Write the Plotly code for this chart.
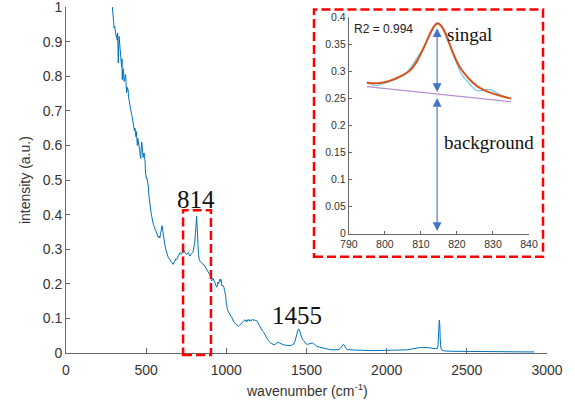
import plotly.graph_objects as go

# Raman spectrum (wavenumber in cm^-1, normalised intensity)
wavenumber = [
    289, 293, 295, 298, 300, 303, 306, 310, 313, 316, 319, 322, 324, 326, 328, 331, 334, 337, 340, 343,
    345, 347, 349, 351, 354, 357, 360, 362, 365, 368, 372, 375, 378, 381, 384, 387, 390, 393, 396, 399,
    403, 406, 409, 412, 415, 418, 421, 424, 427, 430, 433, 436, 439, 442, 445, 448, 451, 454, 457, 460,
    463, 466, 469, 472, 475, 478, 481, 484, 487, 490, 493, 496, 499, 502, 505, 508, 511, 514, 517, 520,
    524, 528, 532, 536, 540, 545, 550, 555, 560, 565, 570, 575, 580, 585, 590, 595, 599, 603, 607, 612,
    617, 622, 628, 633, 638, 643, 649, 654, 659, 664, 669, 674, 680, 685, 690, 695, 701, 706, 711, 716,
    722, 727, 732, 737, 742, 747, 753, 758, 763, 768, 773, 778, 784, 789, 794, 799, 803, 807, 810, 813,
    815, 817, 819, 821, 823, 826, 830, 834, 838, 842, 846, 850, 856, 861, 867, 872, 878, 884, 890, 895,
    898, 902, 906, 909, 912, 916, 919, 922, 926, 929, 933, 936, 940, 944, 948, 951, 955, 958, 961, 964,
    967, 970, 973, 977, 981, 985, 989, 993, 996, 999, 1002, 1006, 1012, 1018, 1023, 1028, 1033, 1038, 1044, 1049,
    1054, 1060, 1065, 1070, 1075, 1080, 1085, 1090, 1096, 1101, 1106, 1111, 1116, 1120, 1124, 1128, 1132, 1137, 1142, 1146,
    1150, 1155, 1160, 1165, 1170, 1175, 1180, 1185, 1190, 1195, 1200, 1205, 1210, 1215, 1220, 1226, 1231, 1236, 1241, 1246,
    1252, 1257, 1262, 1267, 1272, 1278, 1283, 1290, 1298, 1305, 1312, 1318, 1324, 1330, 1337, 1345, 1355, 1365, 1376, 1386,
    1397, 1405, 1412, 1420, 1428, 1436, 1442, 1448, 1453, 1458, 1464, 1470, 1476, 1482, 1490, 1498, 1506, 1515, 1525, 1535,
    1545, 1555, 1565, 1580, 1595, 1610, 1626, 1645, 1665, 1685, 1700, 1712, 1722, 1730, 1737, 1745, 1755, 1770, 1790, 1810,
    1835, 1860, 1890, 1920, 1950, 1980, 2010, 2040, 2070, 2100, 2125, 2150, 2170, 2190, 2210, 2230, 2250, 2270, 2290, 2305,
    2315, 2320, 2324, 2328, 2331, 2334, 2338, 2345, 2360, 2400, 2450, 2500, 2550, 2600, 2650, 2700, 2750, 2800, 2850, 2900,
    2920,
]
intensity = [
    1.000, 0.975, 0.962, 0.950, 0.940, 0.945, 0.930, 0.928, 0.915, 0.918, 0.905, 0.925, 0.880, 0.838, 0.870, 0.915, 0.895, 0.888, 0.870, 0.862,
    0.840, 0.826, 0.850, 0.790, 0.815, 0.822, 0.800, 0.785, 0.790, 0.800, 0.805, 0.775, 0.752, 0.768, 0.760, 0.762, 0.740, 0.730, 0.720, 0.718,
    0.705, 0.700, 0.690, 0.684, 0.675, 0.670, 0.658, 0.655, 0.642, 0.650, 0.635, 0.625, 0.640, 0.618, 0.600, 0.620, 0.612, 0.608, 0.605, 0.585,
    0.570, 0.562, 0.590, 0.610, 0.598, 0.580, 0.565, 0.575, 0.578, 0.568, 0.555, 0.520, 0.508, 0.503, 0.505, 0.496, 0.492, 0.480, 0.455, 0.440,
    0.428, 0.418, 0.400, 0.392, 0.380, 0.371, 0.366, 0.360, 0.350, 0.343, 0.340, 0.334, 0.338, 0.332, 0.345, 0.360, 0.368, 0.355, 0.338, 0.325,
    0.312, 0.300, 0.288, 0.280, 0.276, 0.272, 0.270, 0.265, 0.262, 0.258, 0.256, 0.262, 0.267, 0.272, 0.270, 0.276, 0.281, 0.285, 0.290, 0.288,
    0.286, 0.292, 0.300, 0.295, 0.290, 0.287, 0.285, 0.289, 0.290, 0.284, 0.280, 0.284, 0.286, 0.290, 0.295, 0.305, 0.320, 0.345, 0.365, 0.385,
    0.395, 0.375, 0.345, 0.320, 0.305, 0.285, 0.272, 0.266, 0.264, 0.262, 0.262, 0.258, 0.257, 0.254, 0.250, 0.246, 0.242, 0.238, 0.234, 0.230,
    0.228, 0.222, 0.212, 0.208, 0.212, 0.216, 0.214, 0.210, 0.206, 0.204, 0.198, 0.192, 0.190, 0.196, 0.205, 0.200, 0.206, 0.210, 0.214, 0.208,
    0.212, 0.200, 0.194, 0.196, 0.192, 0.190, 0.180, 0.172, 0.165, 0.148, 0.135, 0.128, 0.120, 0.113, 0.109, 0.107, 0.104, 0.097, 0.091, 0.088,
    0.086, 0.083, 0.080, 0.078, 0.077, 0.079, 0.081, 0.084, 0.086, 0.088, 0.091, 0.094, 0.096, 0.092, 0.095, 0.090, 0.096, 0.094, 0.097, 0.092,
    0.096, 0.093, 0.095, 0.098, 0.094, 0.096, 0.093, 0.095, 0.093, 0.090, 0.086, 0.081, 0.076, 0.071, 0.067, 0.063, 0.061, 0.056, 0.052, 0.048,
    0.043, 0.040, 0.036, 0.033, 0.030, 0.028, 0.027, 0.025, 0.024, 0.025, 0.027, 0.031, 0.032, 0.029, 0.027, 0.025, 0.024, 0.023, 0.022, 0.021,
    0.021, 0.022, 0.023, 0.026, 0.034, 0.050, 0.062, 0.068, 0.069, 0.064, 0.052, 0.042, 0.038, 0.036, 0.030, 0.026, 0.025, 0.026, 0.028, 0.029,
    0.027, 0.023, 0.019, 0.017, 0.015, 0.013, 0.011, 0.010, 0.009, 0.009, 0.010, 0.014, 0.020, 0.025, 0.022, 0.014, 0.010, 0.009, 0.008, 0.008,
    0.008, 0.007, 0.007, 0.007, 0.007, 0.007, 0.007, 0.007, 0.007, 0.008, 0.009, 0.011, 0.013, 0.015, 0.016, 0.016, 0.016, 0.015, 0.013, 0.012,
    0.013, 0.020, 0.055, 0.095, 0.085, 0.040, 0.014, 0.008, 0.006, 0.005, 0.005, 0.004, 0.004, 0.004, 0.004, 0.003, 0.003, 0.003, 0.003, 0.003,
    0.003,
]

# Zoomed region around the 814 cm^-1 band
peak_x = [795, 796, 797, 798, 799, 800, 801, 802, 803, 804, 805, 806, 807, 808, 809, 810, 811, 812, 813, 814,
          815, 816, 817, 818, 819, 820, 821, 822, 823, 824, 825, 826, 827, 828, 829, 830, 831, 832, 833, 834, 835]
peak_y = [0.281, 0.277, 0.274, 0.274, 0.276, 0.278, 0.280, 0.283, 0.285, 0.289, 0.292, 0.297, 0.305, 0.315, 0.326,
          0.336, 0.345, 0.360, 0.375, 0.386, 0.389, 0.380, 0.365, 0.348, 0.330, 0.312, 0.298, 0.288, 0.280, 0.272,
          0.266, 0.264, 0.265, 0.267, 0.267, 0.264, 0.260, 0.256, 0.253, 0.251, 0.249]
fit_x = [795, 797, 799, 801, 803, 805, 807, 808, 809, 810, 811, 812, 813, 814, 814.5, 815, 816, 817, 818, 819,
         820, 821, 822, 824, 826, 828, 830, 832, 835]
fit_y = [0.279, 0.278, 0.279, 0.282, 0.287, 0.293, 0.302, 0.310, 0.320, 0.333, 0.347, 0.362, 0.376, 0.386, 0.389,
         0.388, 0.381, 0.368, 0.350, 0.333, 0.318, 0.306, 0.297, 0.282, 0.271, 0.264, 0.259, 0.255, 0.250]
base_x = [795, 835]
base_y = [0.272, 0.244]

peak_center = 814.5
signal_arrow = [0.259, 0.380]
background_arrow = [0.002, 0.251]
r2_text = "R2 = 0.994"

AX_COLOR = "#666666"
TXT_COLOR = "#333333"
SANS = "Arial, Liberation Sans, sans-serif"
SERIF = "Liberation Serif, Times New Roman, serif"
ARROW = "#4472C4"

fig = go.Figure()
fig.add_trace(go.Scatter(x=wavenumber, y=intensity, mode="lines",
                         line=dict(color="#0072BD", width=1), xaxis="x", yaxis="y"))
fig.add_trace(go.Scatter(x=peak_x, y=peak_y, mode="lines",
                         line=dict(color="#6cc6ee", width=1.2), xaxis="x2", yaxis="y2"))
fig.add_trace(go.Scatter(x=fit_x, y=fit_y, mode="lines", line_shape="spline",
                         line=dict(color="#D95319", width=2), xaxis="x2", yaxis="y2"))
fig.add_trace(go.Scatter(x=base_x, y=base_y, mode="lines",
                         line=dict(color="#b88fd0", width=1.2), xaxis="x2", yaxis="y2"))

axis_common = dict(showline=True, linecolor=AX_COLOR, linewidth=1, ticks="inside", automargin=False,
                   ticklabeloverflow="allow", tickcolor=AX_COLOR, showgrid=False, zeroline=False,
                   mirror=False)

annotations = [
    dict(text="wavenumber (cm<sup>-1</sup>)", xref="paper", yref="paper", x=0.5, y=-0.075,
         xanchor="center", yanchor="top", showarrow=False, font=dict(family=SANS, size=14, color=TXT_COLOR)),
    dict(text="intensity (a.u.)", xref="paper", yref="paper", x=-0.085, y=0.5, textangle=-90,
         xanchor="center", yanchor="middle", showarrow=False, font=dict(family=SANS, size=14, color=TXT_COLOR)),
    dict(text="814", x=809, y=0.445, xref="x", yref="y", showarrow=False,
         font=dict(family=SERIF, size=25, color="#111111")),
    dict(text="1455", x=1441, y=0.109, xref="x", yref="y", showarrow=False,
         font=dict(family=SERIF, size=25, color="#111111")),
    dict(text=r2_text, x=791, y=0.378, xref="x2", yref="y2", xanchor="left", showarrow=False,
         font=dict(family=SANS, size=12, color="#222222")),
    dict(text="singal", x=823.6, y=0.369, xref="x2", yref="y2", showarrow=False,
         font=dict(family=SERIF, size=19, color="#111111")),
    dict(text="background", x=829, y=0.169, xref="x2", yref="y2", showarrow=False,
         font=dict(family=SERIF, size=19, color="#111111")),
]
for lo, hi in (signal_arrow, background_arrow):
    annotations.append(dict(text="", x=peak_center, y=hi, ax=peak_center, ay=lo,
                            xref="x2", yref="y2", axref="x2", ayref="y2", showarrow=True,
                            arrowside="end+start", arrowhead=2, startarrowhead=2,
                            arrowsize=1.6, startarrowsize=1.6, arrowwidth=1.1, arrowcolor=ARROW))

shapes = [
    # marker box around the 814 band in the full spectrum
    dict(type="rect", xref="paper", yref="paper", x0=730 / 3000, x1=904 / 3000, y0=-0.006, y1=0.4126,
         line=dict(color="#ff0000", width=2.5, dash="9px,4px")),
    # frame of the zoomed panel
    dict(type="rect", xref="paper", yref="paper", x0=0.5156, x1=0.9917, y0=0.278, y1=0.993,
         line=dict(color="#ff0000", width=2.5, dash="9px,4px"), fillcolor="white", layer="below"),
]

fig.update_layout(
    width=575, height=407,
    margin=dict(l=66, r=28, t=7, b=54),
    paper_bgcolor="white", plot_bgcolor="rgba(0,0,0,0)",
    showlegend=False,
    xaxis=dict(domain=[0, 1], range=[0, 3000], tickvals=[0, 500, 1000, 1500, 2000, 2500, 3000],
               ticklen=5, ticklabelstandoff=4, tickfont=dict(family=SANS, size=14, color=TXT_COLOR),
               **axis_common),
    yaxis=dict(domain=[0, 1], range=[0, 1], tickvals=[0, 0.1, 0.2, 0.3, 0.4, 0.5, 0.6, 0.7, 0.8, 0.9, 1],
               ticktext=["0", "0.1", "0.2", "0.3", "0.4", "0.5", "0.6", "0.7", "0.8", "0.9", "1"],
               ticklen=4, tickfont=dict(family=SANS, size=14, color=TXT_COLOR), **axis_common),
    xaxis2=dict(domain=[0.588, 0.9626], range=[790, 840], anchor="y2",
                tickvals=[790, 800, 810, 820, 830, 840], ticklen=3, ticklabelstandoff=1,
                tickfont=dict(family=SANS, size=10.5, color=TXT_COLOR), **axis_common),
    yaxis2=dict(domain=[0.345, 0.97], range=[0, 0.4], anchor="x2",
                tickvals=[0, 0.05, 0.1, 0.15, 0.2, 0.25, 0.3, 0.35, 0.4],
                ticktext=["0", "0.05", "0.1", "0.15", "0.2", "0.25", "0.3", "0.35", "0.4"], ticklen=3,
                tickfont=dict(family=SANS, size=10.5, color=TXT_COLOR), **axis_common),
    annotations=annotations,
    shapes=shapes,
)

fig.write_html("out.html")
